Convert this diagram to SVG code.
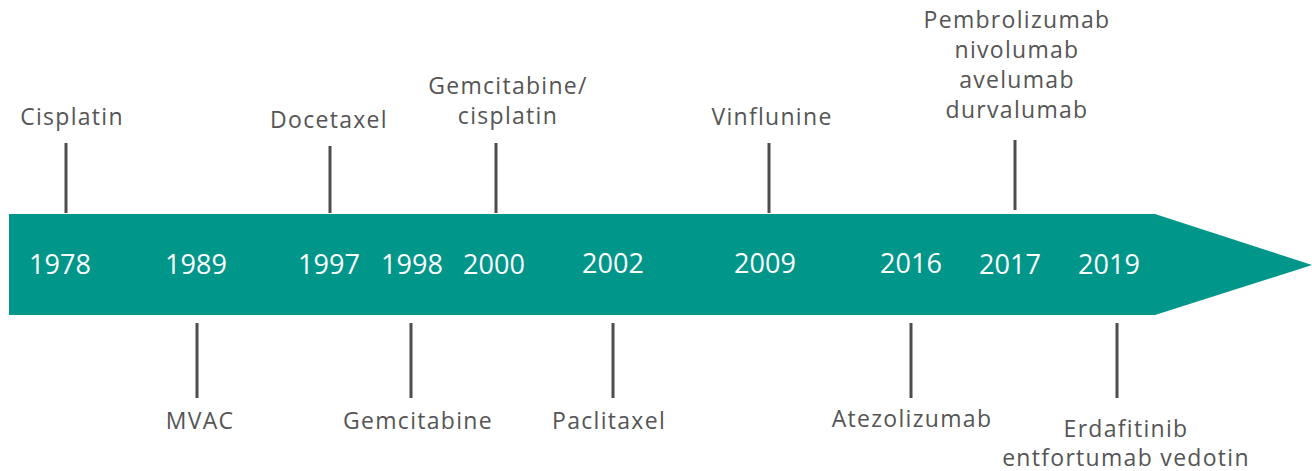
<svg xmlns="http://www.w3.org/2000/svg" width="1312" height="471" viewBox="0 0 1312 471">
<style>
.yr{font-family:"Open Sans",sans-serif;font-size:27px;fill:#ffffff;text-anchor:middle}
.lb{font-family:"Open Sans",sans-serif;font-size:23px;fill:#555555;text-anchor:middle;letter-spacing:1.3px}
.tk{stroke:#4d4d4d;stroke-width:3;fill:none}
</style>
<rect width="1312" height="471" fill="#ffffff"/>
<g id="bar">
<polygon points="9,214 1155,214 1312,265 1155,315 9,315" fill="#00968a"/>
<text class="yr" x="60" y="274">1978</text>
<text class="yr" x="196" y="274">1989</text>
<text class="yr" x="329" y="274">1997</text>
<text class="yr" x="412" y="274">1998</text>
<text class="yr" x="494" y="274">2000</text>
<text class="yr" x="613" y="273">2002</text>
<text class="yr" x="765" y="273">2009</text>
<text class="yr" x="911" y="273">2016</text>
<text class="yr" x="1010" y="274">2017</text>
<text class="yr" x="1109" y="274">2019</text>
</g>
<g id="connectors">
<line class="tk" x1="66" y1="143" x2="66" y2="213"/>
<line class="tk" x1="330" y1="146" x2="330" y2="213"/>
<line class="tk" x1="496" y1="143" x2="496" y2="213"/>
<line class="tk" x1="769" y1="143" x2="769" y2="213"/>
<line class="tk" x1="1015" y1="140" x2="1015" y2="210"/>
<line class="tk" x1="197" y1="323" x2="197" y2="398"/>
<line class="tk" x1="411" y1="323" x2="411" y2="398"/>
<line class="tk" x1="613" y1="323" x2="613" y2="398"/>
<line class="tk" x1="911" y1="323" x2="911" y2="398"/>
<line class="tk" x1="1117" y1="323" x2="1117" y2="398"/>
</g>
<g id="n-cisplatin"><text class="lb" x="72" y="125">Cisplatin</text></g>
<g id="n-docetaxel"><text class="lb" x="329" y="128">Docetaxel</text></g>
<g id="n-gemcis"><text class="lb" x="508" y="94">Gemcitabine/</text><text class="lb" x="508" y="124">cisplatin</text></g>
<g id="n-vinflunine"><text class="lb" x="772" y="125">Vinflunine</text></g>
<g id="n-pembro"><text class="lb" x="1017" y="28">Pembrolizumab</text><text class="lb" x="1017" y="58">nivolumab</text><text class="lb" x="1017" y="88">avelumab</text><text class="lb" x="1017" y="118">durvalumab</text></g>
<g id="n-mvac"><text class="lb" x="200" y="429">MVAC</text></g>
<g id="n-gemcitabine"><text class="lb" x="418" y="429">Gemcitabine</text></g>
<g id="n-paclitaxel"><text class="lb" x="609" y="429">Paclitaxel</text></g>
<g id="n-atezo"><text class="lb" x="912" y="427">Atezolizumab</text></g>
<g id="n-erda"><text class="lb" x="1126" y="437">Erdafitinib</text><text class="lb" x="1126" y="466">entfortumab vedotin</text></g>
</svg>
